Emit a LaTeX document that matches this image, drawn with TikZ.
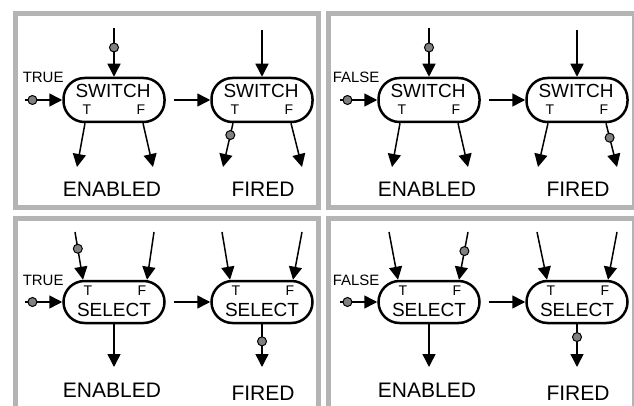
\documentclass[tikz,border=0pt]{standalone}
\usepackage{fontspec}
\setmainfont{Liberation Sans}
\usetikzlibrary{arrows.meta, positioning, calc}

\definecolor{framegray}{RGB}{180,180,180}
\definecolor{tokengray}{RGB}{128,128,128}

% one gate: pill with title and T/F ports
\newcommand{\switchnode}[2]{%
  \node[gate] (#1) at (#2) {};
  \node[gname] (#1n) at ($(#1)+(-1,-9)$) {SWITCH};
  \node[port] (#1t) at ($(#1)+(-27,10)$) {T};
  \node[port] (#1f) at ($(#1)+(27,10)$) {F};
}
\newcommand{\selectnode}[2]{%
  \node[gate, minimum height=42pt] (#1) at (#2) {};
  \node[gname] (#1n) at ($(#1)+(0,8)$) {SELECT};
  \node[port] (#1t) at ($(#1)+(-26,-11)$) {T};
  \node[port] (#1f) at ($(#1)+(28,-11)$) {F};
}

\begin{document}
\begin{tikzpicture}[x=1pt, y=-1pt, >={Triangle[width=13pt,length=13pt]},
    line width=1.5pt,
    gate/.style={draw, line width=2.5pt, rounded corners=21pt,
      minimum width=101pt, minimum height=44pt, inner sep=0pt},
    gname/.style={font=\fontsize{19}{19}\selectfont, inner sep=0pt},
    port/.style={font=\fontsize{14}{14}\selectfont, inner sep=0pt},
    ctl/.style={font=\fontsize{15}{15}\selectfont, inner sep=0pt, anchor=west},
    result/.style={font=\fontsize{21}{21}\selectfont, inner sep=0pt},
    token/.style={circle, draw, line width=1pt, fill=tokengray,
      minimum size=9pt, inner sep=0pt},
    frame/.style={draw=framegray, line width=5pt}]
  \useasboundingbox (0,0) rectangle (634,406);
  \clip (0,0) rectangle (634,406);

  % frames
  \draw[frame] (15.5,13.5) rectangle (318.5,207.5);
  \draw[frame] (328.5,13.5) rectangle (634.5,207.5);
  \draw[frame] (15.5,218.5) rectangle (318.5,420);
  \draw[frame] (328.5,218.5) rectangle (634.5,420);

  % switch, control TRUE
  \begin{scope}
    \switchnode{a1}{114,100}
    \switchnode{a2}{262,100}
    \coordinate (a0) at (25,100);
    \coordinate (a1in) at (114,28);
    \coordinate (a2in) at (262,30);
    \coordinate (a1tx) at (77,167);
    \coordinate (a1fx) at (153,167);
    \coordinate (a2tx) at (223,167);
    \coordinate (a2fx) at (302,167);
    \node[ctl] (actl) at (22,77) {TRUE};
    \draw[->] (a0) -- node[token, pos=0.2] {} (a1);
    \draw[->] (a1in) -- node[token, pos=0.4] {} (a1);
    \draw[->] (a2in) -- (a2);
    \draw[->, shorten <=8pt] (a1) -- (a2);
    \draw[->] ($(a1.south)+(-29,0)$) -- (a1tx);
    \draw[->] ($(a1.south)+(29,0)$) -- (a1fx);
    \draw[->] ($(a2.south)+(-29,0)$) -- node[token, pos=0.27] {} (a2tx);
    \draw[->] ($(a2.south)+(29,0)$) -- (a2fx);
    \node[result] (aen) at (112,189) {ENABLED};
    \node[result] (afi) at (263,189) {FIRED};
  \end{scope}

  % switch, control FALSE
  \begin{scope}[shift={(315,0)}]
    \switchnode{b1}{114,100}
    \switchnode{b2}{262,100}
    \coordinate (b0) at (25,100);
    \coordinate (b1in) at (114,28);
    \coordinate (b2in) at (262,30);
    \coordinate (b1tx) at (77,167);
    \coordinate (b1fx) at (153,167);
    \coordinate (b2tx) at (223,167);
    \coordinate (b2fx) at (302,167);
    \node[ctl] (bctl) at (17,77) {FALSE};
    \draw[->] (b0) -- node[token, pos=0.2] {} (b1);
    \draw[->] (b1in) -- node[token, pos=0.4] {} (b1);
    \draw[->] (b2in) -- (b2);
    \draw[->, shorten <=8pt] (b1) -- (b2);
    \draw[->] ($(b1.south)+(-29,0)$) -- (b1tx);
    \draw[->] ($(b1.south)+(29,0)$) -- (b1fx);
    \draw[->] ($(b2.south)+(-29,0)$) -- (b2tx);
    \draw[->] ($(b2.south)+(29,0)$) -- node[token, pos=0.33] {} (b2fx);
    \node[result] (ben) at (112,189) {ENABLED};
    \node[result] (bfi) at (263,189) {FIRED};
  \end{scope}

  % select, control TRUE
  \begin{scope}[shift={(0,201)}]
    \selectnode{c1}{114,101}
    \selectnode{c2}{262,101}
    \coordinate (c0) at (25,101);
    \coordinate (c1tin) at (75,31);
    \coordinate (c1fin) at (154,31);
    \coordinate (c2tin) at (222,31);
    \coordinate (c2fin) at (302,31);
    \coordinate (c1out) at (114,166);
    \coordinate (c2out) at (262,166);
    \node[ctl] (cctl) at (22,79) {TRUE};
    \draw[->] (c0) -- node[token, pos=0.2] {} (c1);
    \draw[->] (c1tin) -- node[token, pos=0.35] {} ($(c1.north)+(-31,0)$);
    \draw[->] (c1fin) -- ($(c1.north)+(33,0)$);
    \draw[->] (c2tin) -- ($(c2.north)+(-32,0)$);
    \draw[->] (c2fin) -- ($(c2.north)+(31,0)$);
    \draw[->, shorten <=8pt] (c1) -- (c2);
    \draw[->] (c1) -- (c1out);
    \draw[->] (c2) -- node[token, pos=0.4] {} (c2out);
    \node[result] (cen) at (112,189) {ENABLED};
    \node[result] (cfi) at (263,192) {FIRED};
  \end{scope}

  % select, control FALSE
  \begin{scope}[shift={(315,201)}]
    \selectnode{d1}{114,101}
    \selectnode{d2}{262,101}
    \coordinate (d0) at (25,101);
    \coordinate (d1tin) at (74,31);
    \coordinate (d1fin) at (153,31);
    \coordinate (d2tin) at (222,31);
    \coordinate (d2fin) at (302,31);
    \coordinate (d1out) at (114,166);
    \coordinate (d2out) at (262,166);
    \node[ctl] (dctl) at (17,79) {FALSE};
    \draw[->] (d0) -- node[token, pos=0.2] {} (d1);
    \draw[->] (d1tin) -- ($(d1.north)+(-31,0)$);
    \draw[->] (d1fin) -- node[token, pos=0.4] {} ($(d1.north)+(30,0)$);
    \draw[->] (d2tin) -- ($(d2.north)+(-30,0)$);
    \draw[->] (d2fin) -- ($(d2.north)+(31,0)$);
    \draw[->, shorten <=8pt] (d1) -- (d2);
    \draw[->] (d1) -- (d1out);
    \draw[->] (d2) -- node[token, pos=0.3] {} (d2out);
    \node[result] (den) at (112,189) {ENABLED};
    \node[result] (dfi) at (263,192) {FIRED};
  \end{scope}
\end{tikzpicture}
\end{document}
